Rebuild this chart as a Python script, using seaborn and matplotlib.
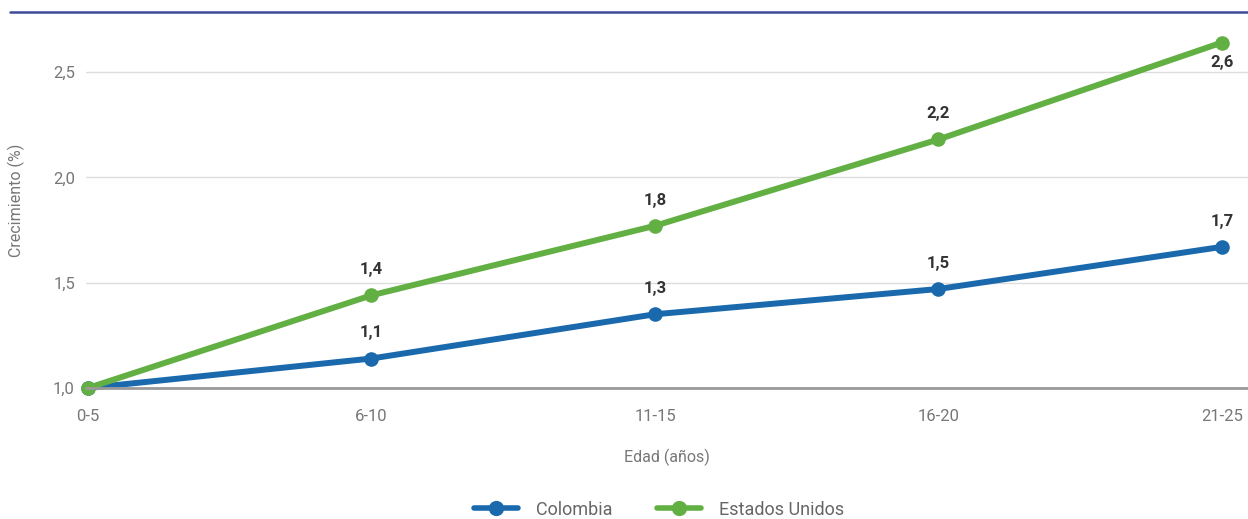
import matplotlib
matplotlib.use("Agg")
import pandas as pd
import seaborn as sns
from matplotlib import pyplot as plt
from matplotlib.lines import Line2D

# data
edades = ["0-5", "6-10", "11-15", "16-20", "21-25"]
colombia = [1.0, 1.14, 1.35, 1.47, 1.67]
estados_unidos = [1.0, 1.44, 1.77, 2.18, 2.64]
etiquetas_col = ["", "1,1", "1,3", "1,5", "1,7"]
etiquetas_us = ["", "1,4", "1,8", "2,2", "2,6"]

azul = "#1a69ad"
verde = "#62b043"

sns.set_theme(style="white")
plt.rcParams["font.family"] = ["Roboto", "DejaVu Sans"]

df = pd.DataFrame({
    "edad": list(range(len(edades))) * 2,
    "valor": colombia + estados_unidos,
    "pais": ["Colombia"] * len(edades) + ["Estados Unidos"] * len(edades),
})

fig = plt.figure(figsize=(12.48, 5.19), dpi=100)
ax = fig.add_axes([86 / 1248, 131 / 519, (1248 - 86) / 1248, 376 / 519])

sns.lineplot(data=df, x="edad", y="valor", hue="pais",
             palette={"Colombia": azul, "Estados Unidos": verde},
             marker="o", markersize=10.5, markeredgewidth=0, linewidth=4.3,
             ax=ax, legend=False, clip_on=False)

ax.set_xlim(-0.007, 4.092)
ax.set_ylim(1.0, 2.785)
ax.set_yticks([1.0, 1.5, 2.0, 2.5])
ax.set_yticklabels(["1,0", "1,5", "2,0", "2,5"])
ax.set_xticks(range(len(edades)))
ax.set_xticklabels(edades)
ax.tick_params(axis="both", colors="#777777", labelsize=12, length=0)
ax.tick_params(axis="x", pad=15)
ax.tick_params(axis="y", pad=8)
ax.grid(axis="y", color="#dddddd", linewidth=1)
for s in ["top", "right", "left"]:
    ax.spines[s].set_visible(False)
ax.spines["bottom"].set_color("#999999")
ax.spines["bottom"].set_linewidth(2)

ax.set_xlabel("Edad (años)", color="#777777", fontsize=11.5, labelpad=18)
ax.set_ylabel("Crecimiento (%)", color="#777777", fontsize=11.5, labelpad=20)

for i, lab in enumerate(etiquetas_col):
    if lab:
        ax.annotate(lab, (i, colombia[i]), xytext=(0, 13), textcoords="offset points",
                    ha="center", va="bottom", fontsize=12, fontweight="bold", color="#333333")
for i, lab in enumerate(etiquetas_us):
    if lab:
        dy = -9 if i == len(edades) - 1 else 13
        va = "top" if dy < 0 else "bottom"
        ax.annotate(lab, (i, estados_unidos[i]), xytext=(0, dy), textcoords="offset points",
                    ha="center", va=va, fontsize=12, fontweight="bold", color="#333333")

# top rule
fig.add_artist(Line2D([10 / 1248, 1.0], [1 - 12 / 519, 1 - 12 / 519], color="#3d4b9a", linewidth=1.8))

handles = [Line2D([], [], color=azul, marker="o", markersize=11, linewidth=4, markeredgewidth=0),
           Line2D([], [], color=verde, marker="o", markersize=11, linewidth=4, markeredgewidth=0)]
fig.legend(handles, ["Colombia", "Estados Unidos"], loc="center", bbox_to_anchor=(0.528, 0.018),
           ncol=2, frameon=False, fontsize=13, labelcolor="#666666", handlelength=2.4,
           columnspacing=2.5, handletextpad=1.0)

fig.savefig("out.png", dpi=100)
